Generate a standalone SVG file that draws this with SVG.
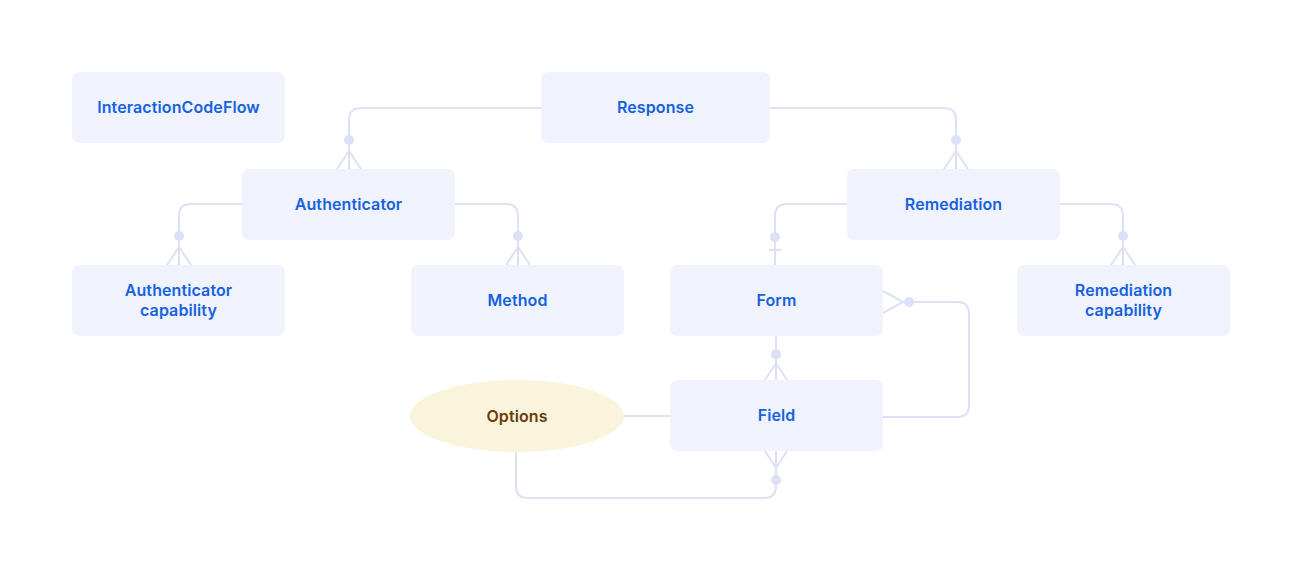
<svg xmlns="http://www.w3.org/2000/svg" width="1302" height="571" viewBox="0 0 1302 571">
<style>
.box{fill:#f0f3fe}
.lbl{font-family:Inter,"Liberation Sans",sans-serif;font-weight:600;font-size:16px;letter-spacing:0.1px;fill:#1662dd;text-anchor:middle;dominant-baseline:central}
.conn path,.conn line{fill:none;stroke:#dde1f5;stroke-width:2}
.conn circle{fill:#dde1f5}
</style>
<rect width="1302" height="571" fill="#ffffff"/>
<g class="conn">
  <!-- Response -> Authenticator -->
  <path d="M541,108 H361 Q349,108 349,120 V169"/>
  <circle cx="349" cy="140" r="5"/>
  <path d="M337,169 L349,151 L361,169"/>
  <!-- Response -> Remediation -->
  <path d="M770,108 H944 Q956,108 956,120 V169"/>
  <circle cx="956" cy="140" r="5"/>
  <path d="M944,169 L956,151 L968,169"/>
  <!-- Authenticator -> Authenticator capability -->
  <path d="M242,204 H191 Q179,204 179,216 V265"/>
  <circle cx="179" cy="236" r="5"/>
  <path d="M167,265 L179,247 L191,265"/>
  <!-- Authenticator -> Method -->
  <path d="M455,204 H506 Q518,204 518,216 V265"/>
  <circle cx="518" cy="236" r="5"/>
  <path d="M506,265 L518,247 L530,265"/>
  <!-- Remediation -> Form -->
  <path d="M847,204 H787 Q775,204 775,216 V265"/>
  <circle cx="775" cy="237" r="5"/>
  <line x1="769" y1="250" x2="781" y2="250"/>
  <!-- Remediation -> Remediation capability -->
  <path d="M1060,204 H1111 Q1123,204 1123,216 V265"/>
  <circle cx="1123" cy="236" r="5"/>
  <path d="M1111,265 L1123,247 L1135,265"/>
  <!-- Form -> Field -->
  <line x1="776" y1="336" x2="776" y2="380"/>
  <circle cx="776" cy="354" r="5"/>
  <path d="M765,380 L776,363 L787,380"/>
  <!-- Field -> Form (loop) -->
  <path d="M883,417 H957 Q969,417 969,405 V314 Q969,302 957,302 H903"/>
  <circle cx="909" cy="302" r="5"/>
  <path d="M883,291 L903,302 L883,313"/>
  <!-- Options -> Field -->
  <line x1="624" y1="416" x2="670" y2="416"/>
  <!-- Options -> Field bottom -->
  <path d="M516,452 V486 Q516,498 528,498 H764 Q776,498 776,486 V451"/>
  <circle cx="776" cy="480" r="5"/>
  <path d="M765,451 L776,468 L787,451"/>
</g>
<g id="InteractionCodeFlow"><rect class="box" x="72" y="72" width="213" height="71" rx="7"/><text class="lbl" x="178.5" y="106.5">InteractionCodeFlow</text></g>
<g id="Response"><rect class="box" x="541" y="72" width="229" height="71" rx="7"/><text class="lbl" x="655.5" y="106.5">Response</text></g>
<g id="Authenticator"><rect class="box" x="242" y="169" width="213" height="71" rx="7"/><text class="lbl" x="348.5" y="203.5">Authenticator</text></g>
<g id="Remediation"><rect class="box" x="847" y="169" width="213" height="71" rx="7"/><text class="lbl" x="953.5" y="203.5">Remediation</text></g>
<g id="AuthenticatorCapability"><rect class="box" x="72" y="265" width="213" height="71" rx="7"/><text class="lbl" x="178.5" y="289.5">Authenticator</text><text class="lbl" x="178.5" y="309.5">capability</text></g>
<g id="Method"><rect class="box" x="411" y="265" width="213" height="71" rx="7"/><text class="lbl" x="517.5" y="299.5">Method</text></g>
<g id="Form"><rect class="box" x="670" y="265" width="213" height="71" rx="7"/><text class="lbl" x="776.5" y="299.5">Form</text></g>
<g id="RemediationCapability"><rect class="box" x="1017" y="265" width="213" height="71" rx="7"/><text class="lbl" x="1123.5" y="289.5">Remediation</text><text class="lbl" x="1123.5" y="309.5">capability</text></g>
<g id="Field"><rect class="box" x="670" y="380" width="213" height="71" rx="7"/><text class="lbl" x="776.5" y="414.5">Field</text></g>
<g id="Options"><ellipse cx="517" cy="416" rx="107" ry="36" fill="#faf4dc"/><text class="lbl" x="517" y="415.5" style="fill:#6b3b0a">Options</text></g>
</svg>
